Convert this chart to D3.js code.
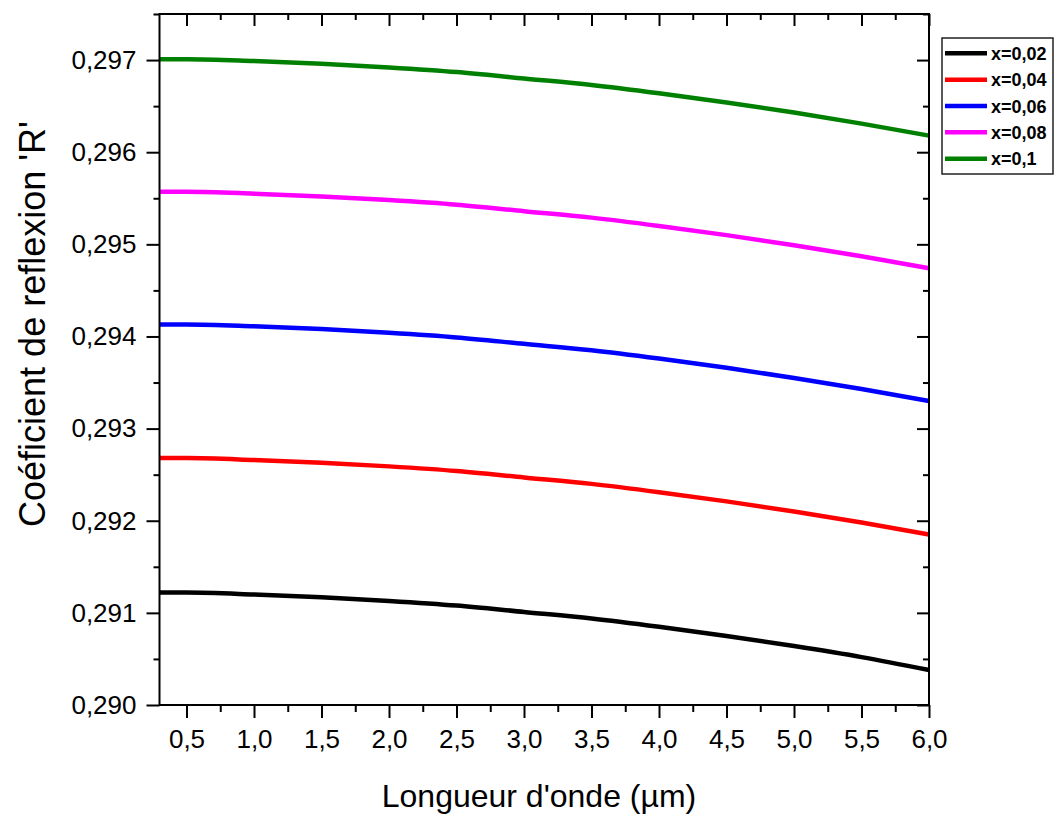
<!DOCTYPE html>
<html>
<head>
<meta charset="utf-8">
<script src="https://cdn.jsdelivr.net/npm/d3@7"></script>
<style>
  body { margin: 0; background: #fff; }
  text { font-family: Arial, "Liberation Sans", sans-serif; }
</style>
</head>
<body>
<div id="chart"></div>
<script>
// wavelength (µm)
var lambda = [0.3, 0.5, 1.0, 1.5, 2.0, 2.5, 3.0, 3.5, 4.0, 4.5, 5.0, 5.5, 6.0];

// reflexion coefficient for each composition x
var r002 = [0.29122, 0.29122, 0.29120, 0.29117, 0.29113, 0.29108, 0.29101, 0.29094, 0.29085, 0.29075, 0.29064, 0.29052, 0.29038];
var r004 = [0.29268, 0.29268, 0.29266, 0.29263, 0.29259, 0.29254, 0.29247, 0.29240, 0.29231, 0.29221, 0.29210, 0.29198, 0.29185];
var r006 = [0.29413, 0.29413, 0.29411, 0.29408, 0.29404, 0.29399, 0.29392, 0.29385, 0.29376, 0.29366, 0.29355, 0.29343, 0.29330];
var r008 = [0.29557, 0.29557, 0.29555, 0.29552, 0.29548, 0.29543, 0.29536, 0.29529, 0.29520, 0.29510, 0.29499, 0.29487, 0.29474];
var r010 = [0.29701, 0.29701, 0.29699, 0.29696, 0.29692, 0.29687, 0.29680, 0.29673, 0.29664, 0.29654, 0.29643, 0.29631, 0.29618];

var seriesNames = ["x=0,02", "x=0,04", "x=0,06", "x=0,08", "x=0,1"];
var seriesValues = [r002, r004, r006, r008, r010];
var seriesColors = ["#000000", "#ff0000", "#0000ff", "#ff00ff", "#008000"];

var xMajor = [0.5, 1.0, 1.5, 2.0, 2.5, 3.0, 3.5, 4.0, 4.5, 5.0, 5.5, 6.0];
var xMinor = [0.75, 1.25, 1.75, 2.25, 2.75, 3.25, 3.75, 4.25, 4.75, 5.25, 5.75];
var yMajor = [0.290, 0.291, 0.292, 0.293, 0.294, 0.295, 0.296, 0.297];
var yMinor = [0.2905, 0.2915, 0.2925, 0.2935, 0.2945, 0.2955, 0.2965, 0.2975];

var W = 1057, H = 814;
var margin = { top: 14, right: 128, bottom: 109, left: 159.5 },
  width = W - margin.left - margin.right,
  height = H - margin.top - margin.bottom;

var x = d3.scaleLinear().domain([0.3, 6.0]).range([0, width]);
var y = d3.scaleLinear().domain([0.290, 0.2975]).range([height, 0]);

var comma = function(f) {
  return function(d) { return d3.format(f)(d).replace(".", ","); };
};

var svg = d3.select("#chart")
  .append("svg")
  .attr("width", W)
  .attr("height", H);

var g = svg.append("g")
  .attr("transform", "translate(" + margin.left + "," + margin.top + ")");

// lines
var line = d3.line()
  .x(function(d, i) { return x(lambda[i]); })
  .y(function(d) { return y(d); })
  .curve(d3.curveMonotoneX);

seriesValues.forEach(function(vals, i) {
  g.append("path")
    .datum(vals)
    .attr("fill", "none")
    .attr("stroke", seriesColors[i])
    .attr("stroke-width", 4.5)
    .attr("d", line);
});

// axes
function styleAxis(sel) {
  sel.select(".domain").remove();
  sel.selectAll("line").attr("stroke", "#000").attr("stroke-width", 2);
  sel.selectAll("text").attr("fill", "#000").style("font-size", "26px");
}

g.append("g")
  .attr("transform", "translate(0," + height + ")")
  .call(d3.axisBottom(x).tickValues(xMajor).tickSize(13).tickPadding(12).tickFormat(comma(".1f")))
  .call(styleAxis);
g.append("g")
  .attr("transform", "translate(0," + height + ")")
  .call(d3.axisBottom(x).tickValues(xMinor).tickSize(7).tickFormat(""))
  .call(styleAxis);

g.append("g")
  .call(d3.axisLeft(y).tickValues(yMajor).tickSize(13).tickPadding(10).tickFormat(comma(".3f")))
  .call(styleAxis);
g.append("g")
  .call(d3.axisLeft(y).tickValues(yMinor).tickSize(6).tickFormat(""))
  .call(styleAxis);

// mirrored ticks, pointing inward
g.append("g")
  .call(d3.axisTop(x).tickValues(xMajor).tickSize(-12).tickFormat(""))
  .call(styleAxis);
g.append("g")
  .call(d3.axisTop(x).tickValues(xMinor).tickSize(-6).tickFormat(""))
  .call(styleAxis);
g.append("g")
  .attr("transform", "translate(" + width + ",0)")
  .call(d3.axisRight(y).tickValues(yMajor).tickSize(-12).tickFormat(""))
  .call(styleAxis);
g.append("g")
  .attr("transform", "translate(" + width + ",0)")
  .call(d3.axisRight(y).tickValues(yMinor).tickSize(-6).tickFormat(""))
  .call(styleAxis);

// frame
g.append("rect")
  .attr("width", width)
  .attr("height", height)
  .attr("fill", "none")
  .attr("stroke", "#000")
  .attr("stroke-width", 2);

// axis titles
svg.append("text")
  .attr("x", 539)
  .attr("y", 807)
  .attr("text-anchor", "middle")
  .style("font-size", "32px")
  .text("Longueur d'onde (µm)");

svg.append("text")
  .attr("transform", "translate(45,324) rotate(-90)")
  .attr("text-anchor", "middle")
  .style("font-size", "36px")
  .text("Coéficient de reflexion 'R'");

// legend
var leg = svg.append("g").attr("transform", "translate(942,38)");
leg.append("rect")
  .attr("width", 111)
  .attr("height", 136)
  .attr("fill", "#fff")
  .attr("stroke", "#222")
  .attr("stroke-width", 1.5);

seriesNames.forEach(function(name, i) {
  var ry = 15.3 + i * 26.35;
  leg.append("line")
    .attr("x1", 3).attr("x2", 45)
    .attr("y1", ry).attr("y2", ry)
    .attr("stroke", seriesColors[i])
    .attr("stroke-width", 4.5);
  leg.append("text")
    .attr("x", 49)
    .attr("y", ry + 6.5)
    .style("font-size", "18px")
    .style("font-weight", "bold")
    .text(name);
});
</script>
</body>
</html>
